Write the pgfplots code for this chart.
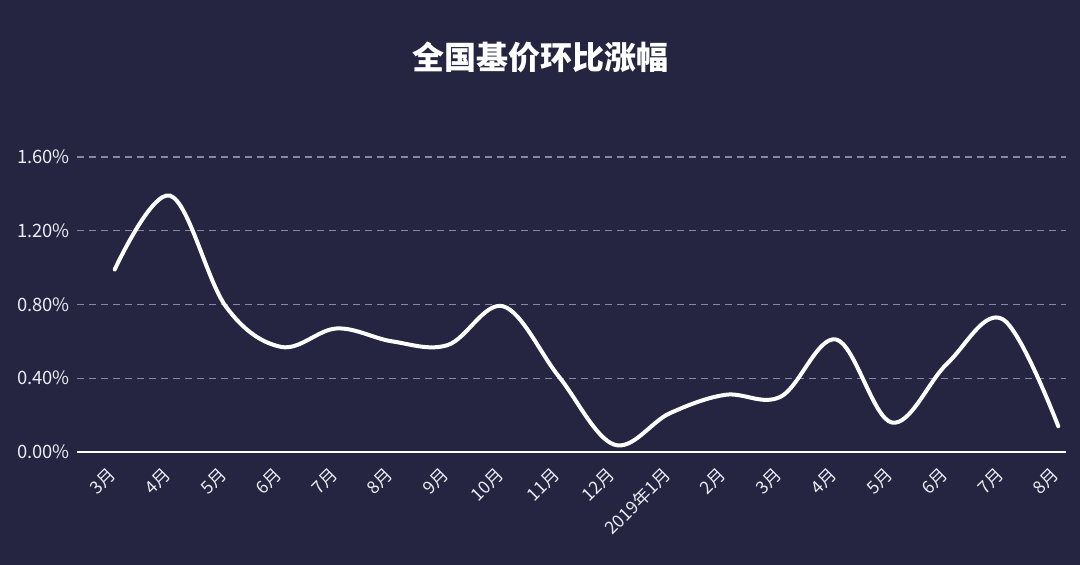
\documentclass[border=0pt]{standalone}
\usepackage{fontspec}
\setmainfont{Noto Sans CJK SC}
\usepackage{pgfplots}
\pgfplotsset{compat=1.18}
\definecolor{bg}{RGB}{37,37,66}
\definecolor{gridc}{RGB}{135,135,160}
\definecolor{txt}{RGB}{235,235,242}
\begin{document}
\begin{tikzpicture}[x=1pt,y=1pt]
\fill[bg] (0,0) rectangle (540,282.5);
\useasboundingbox (0,0) rectangle (540,282.5);
\node[text=white,font=\fontsize{16}{18}\selectfont\bfseries] at (270,254) {全国基价环比涨幅};
\begin{axis}[at={(38.5pt,56.5pt)}, anchor=south west, scale only axis,
  width=494.5pt, height=147.5pt,
  xmin=-0.68, xmax=17.14, ymin=0, ymax=1.6,
  axis line style={draw=none},
  major tick length=0pt,
  ymajorgrids,
  grid style={dash pattern=on 3.5pt off 2.5pt, gridc, line width=0.6pt},
  ytick={0,0.4,0.8,1.2,1.6},
  yticklabels={0.00\%,0.40\%,0.80\%,1.20\%,1.60\%},
  yticklabel style={text=txt, font=\fontsize{9.2}{10}\selectfont},
  xtick={0,...,17},
  xticklabels={3月,4月,5月,6月,7月,8月,9月,10月,11月,12月,2019年1月,2月,3月,4月,5月,6月,7月,8月},
  xticklabel style={xshift=-4pt, yshift=-2pt, rotate=45, anchor=north east, text=txt, font=\fontsize{8.8}{10}\selectfont},
  /pgf/number format/assume math mode=true,
  clip=false,
]
\draw[white, line width=0.6pt] (rel axis cs:0,0) -- (rel axis cs:1,0);
\addplot[white, line width=2pt, smooth, tension=0.6, line cap=round] coordinates {
(0,0.99) (1,1.39) (2,0.79) (3,0.57) (4,0.67) (5,0.60) (6,0.58) (7,0.79) (8,0.41)
(9,0.04) (10,0.21) (11,0.31) (12,0.30) (13,0.61) (14,0.16) (15,0.48) (16,0.72) (17,0.14)};
\end{axis}
\end{tikzpicture}
\end{document}
